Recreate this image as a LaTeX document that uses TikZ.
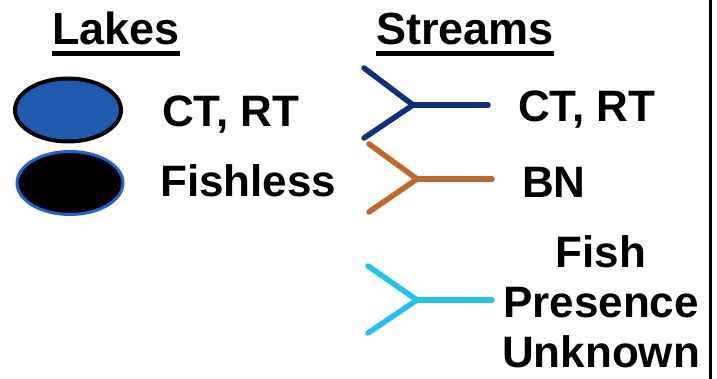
\documentclass[tikz,border=0pt]{standalone}
\usepackage{fontspec}
\setmainfont{Liberation Sans}
\usepackage{xcolor}
\usepackage{tikz}
\usetikzlibrary{shapes.geometric,calc,positioning}
\definecolor{LakeBlue}{HTML}{1F5AAE}
\definecolor{RimBlue}{HTML}{1E62DC}
\definecolor{NavyStr}{HTML}{12307A}
\definecolor{BrownStr}{HTML}{C2682A}
\definecolor{CyanStr}{HTML}{22C2EE}

\begin{document}
\begin{tikzpicture}[x=1pt,y=-1pt,
    txt/.style={inner sep=0pt,font=\fontsize{44}{50}\selectfont\bfseries},
    hd/.style={inner sep=0pt,font=\fontsize{45}{51}\selectfont\bfseries},
    ul/.style={line width=5pt,black},
    lake/.style={ellipse,minimum width=106pt,minimum height=63pt,inner sep=0pt,fill=#1},
    strm/.style={line width=5.5pt,line cap=round,#1}]
\useasboundingbox (0,0) rectangle (717,379);
% headings
\node[hd,anchor=base west] (lk) at (52,45) {Lakes};
\node[hd,anchor=base west] (st) at (376,45) {Streams};
\draw[ul] ($(lk.south west)+(0,7.5)$) -- ($(lk.south east)+(0,7.5)$);
\draw[ul] ($(st.south west)+(0,7.5)$) -- ($(st.south east)+(0,7.5)$);
% lakes
\node[lake=LakeBlue,draw=black,line width=4pt] (l1) at (68,110) {};
\node[lake=black,draw=RimBlue,line width=3pt] (l2) at (70,183) {};
\node[txt,anchor=base west] (l1t) at (162,127) {CT, RT};
\node[txt,anchor=base west] (l2t) at (160,197) {Fishless};
% streams
\coordinate (f1) at (413,105);
\coordinate (f2) at (417,179);
\coordinate (f3) at (417,300);
\draw[strm=NavyStr] (364,68) -- (f1) -- (364,138);
\draw[strm=NavyStr] (f1) -- (488,105);
\draw[strm=BrownStr] (369,144) -- (f2) -- (369,212);
\draw[strm=BrownStr] (f2) -- (492,179);
\draw[strm=CyanStr] (368,266) -- (f3) -- (368,333);
\draw[strm=CyanStr] (f3) -- (492,300);
\node[txt,anchor=base west] (s1t) at (518,122) {CT, RT};
\node[txt,anchor=base west] (s2t) at (522,198) {BN};
\node[txt,align=center] (s3t) at (601,302) {Fish\\Presence\\Unknown};
% frame edge
\coordinate (et) at (710,0);
\coordinate (eb) at (710,379);
\draw[line width=3pt] (et) -- (eb);
\end{tikzpicture}
\end{document}
